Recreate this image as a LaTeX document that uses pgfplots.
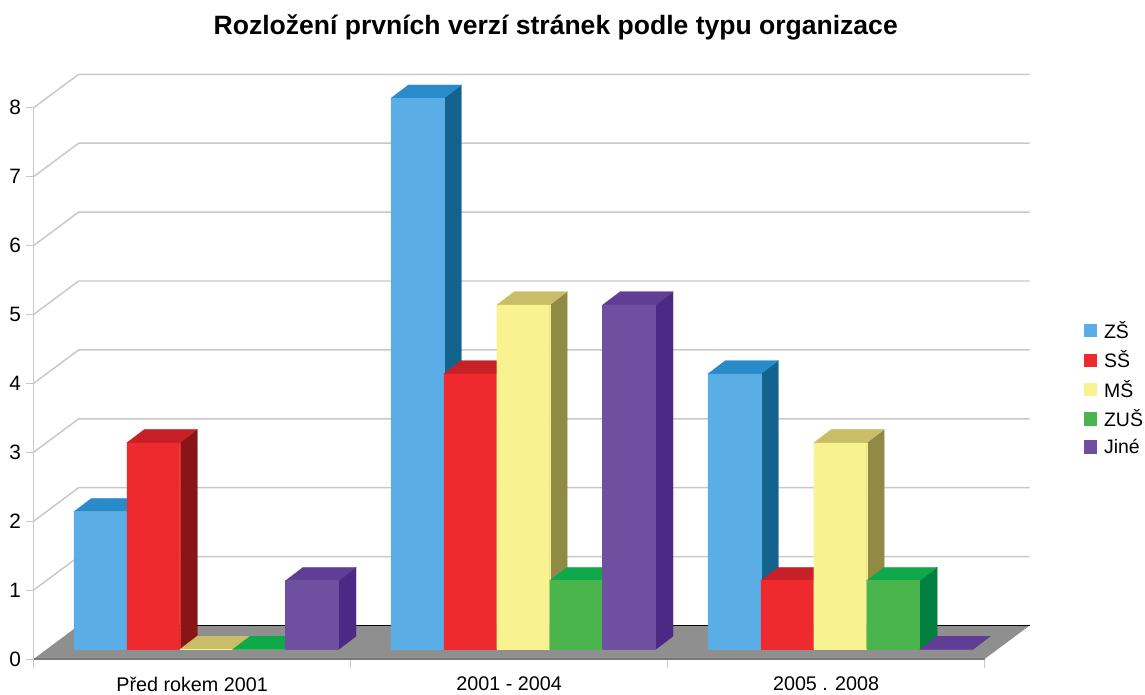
\documentclass[border=0pt]{standalone}
\usepackage{pgfplots}
\pgfplotsset{compat=1.18}
\usepackage{fontspec}
\setmainfont{Liberation Sans}
\definecolor{zsF}{HTML}{5BAEE5}\definecolor{zsT}{HTML}{2A8BCB}\definecolor{zsS}{HTML}{12648F}
\definecolor{ssF}{HTML}{EE2A2E}\definecolor{ssT}{HTML}{C72026}\definecolor{ssS}{HTML}{881518}
\definecolor{msF}{HTML}{F8F291}\definecolor{msT}{HTML}{C9BE67}\definecolor{msS}{HTML}{918A45}
\definecolor{zuF}{HTML}{4AB54C}\definecolor{zuT}{HTML}{0FA84A}\definecolor{zuS}{HTML}{038040}
\definecolor{jiF}{HTML}{6F50A0}\definecolor{jiT}{HTML}{613E96}\definecolor{jiS}{HTML}{4A2A85}
\definecolor{gridc}{HTML}{C8C8C8}
\definecolor{floorc}{HTML}{8F8F8F}
% one 3-D bar: group, series index, value, colour stem
\newcommand\bbar[4]{%
  \edef\xa{\fpeval{#1+0.127+#2*0.167}}%
  \edef\xb{\fpeval{#1+0.127+#2*0.167+0.167}}%
  \edef\xc{\fpeval{#1+0.127+#2*0.167+0.167+0.0553}}%
  \edef\xd{\fpeval{#1+0.127+#2*0.167+0.0553}}%
  \edef\ya{0.138}%
  \edef\yb{\fpeval{#3+0.138}}%
  \edef\yc{\fpeval{#3+0.138+0.193}}%
  \edef\ye{\fpeval{0.138+0.193}}%
  \edef\tmp{\noexpand\addplot[fill=#4S,draw=#4S,line width=0.2pt,forget plot] coordinates {(\xb,\ya)(\xc,\ye)(\xc,\yc)(\xb,\yb)(\xb,\ya)};
  \noexpand\addplot[fill=#4T,draw=#4T,line width=0.2pt,forget plot] coordinates {(\xa,\yb)(\xd,\yc)(\xc,\yc)(\xb,\yb)(\xa,\yb)};
  \noexpand\addplot[fill=#4F,draw=#4F,line width=0.2pt,forget plot] coordinates {(\xa,\ya)(\xb,\ya)(\xb,\yb)(\xa,\yb)(\xa,\ya)};}%
  \tmp
}
\newcommand\gridl[2]{\addplot[gridc,line width=1.1pt,forget plot] coordinates {(0,#1)(0.142,#2)(3.142,#2)};}
\begin{document}
\begin{tikzpicture}
\useasboundingbox (0,0) rectangle (858.75pt,521.25pt);
\begin{axis}[
  at={(25.2pt,27pt)},anchor=south west,
  x=237.75pt,y=51.675pt,
  xmin=0,xmax=3,ymin=0,ymax=8,
  clip=false,
  axis lines*=left,
  axis line style={gridc,line width=1.1pt},
  xtick={0.5,1.5,2.5},
  xticklabels={Před rokem 2001,2001 - 2004,2005 . 2008},
  minor xtick={0,1,2,3},
  ytick={0,1,2,3,4,5,6,7,8},
  major x tick style={draw=none},
  tick style={gridc,line width=0.7pt},
  minor tick length=7pt,
  major tick length=6pt,
  tick align=outside,
  x tick label style={font=\fontsize{14.8}{17}\selectfont,yshift=-4pt},
  y tick label style={font=\fontsize{15.6}{18}\selectfont,xshift=0pt},
  /pgf/number format/assume math mode=true,
  title={\fontsize{19.9}{24}\selectfont\bfseries Rozložení prvních verzí stránek podle typu organizace},
  title style={at={(axis description cs:0.549,1.132)},anchor=center,yshift=0pt},
  legend style={at={(axis description cs:1.104,0.618)},anchor=north west,draw=none,fill=none,
    font=\fontsize{14.6}{18}\selectfont,row sep=3.8pt,inner sep=0pt},
  legend cell align=left,
  legend image code/.code={\path[#1,draw=none] (0pt,-5pt) rectangle (10pt,5pt);\path (13pt,0pt);},
]
\gridl{1}{1.486}\gridl{2}{2.486}\gridl{3}{3.486}\gridl{4}{4.486}
\gridl{5}{5.486}\gridl{6}{6.486}\gridl{7}{7.486}\gridl{8}{8.486}
% floor
\addplot[fill=floorc,draw=none,forget plot] coordinates {(0,0)(3,0)(3.142,0.486)(0.142,0.486)(0,0)};
\addplot[black,line width=0.7pt,forget plot] coordinates {(0.142,0.486)(3.142,0.486)};
\addplot[floorc!85!black,line width=1.1pt,forget plot] coordinates {(0,0)(3,0)};
% Pred rokem 2001
\bbar{0}{0}{2}{zs}\bbar{0}{1}{3}{ss}\bbar{0}{2}{0}{ms}\bbar{0}{3}{0}{zu}\bbar{0}{4}{1}{ji}
% 2001 - 2004
\bbar{1}{0}{8}{zs}\bbar{1}{1}{4}{ss}\bbar{1}{2}{5}{ms}\bbar{1}{3}{1}{zu}\bbar{1}{4}{5}{ji}
% 2005 . 2008
\bbar{2}{0}{4}{zs}\bbar{2}{1}{1}{ss}\bbar{2}{2}{3}{ms}\bbar{2}{3}{1}{zu}\bbar{2}{4}{0}{ji}
\addlegendimage{fill=zsF}\addlegendentry{ZŠ}
\addlegendimage{fill=ssF}\addlegendentry{SŠ}
\addlegendimage{fill=msF}\addlegendentry{MŠ}
\addlegendimage{fill=zuF}\addlegendentry{ZUŠ}
\addlegendimage{fill=jiF}\addlegendentry{Jiné}
\end{axis}
\end{tikzpicture}
\end{document}
